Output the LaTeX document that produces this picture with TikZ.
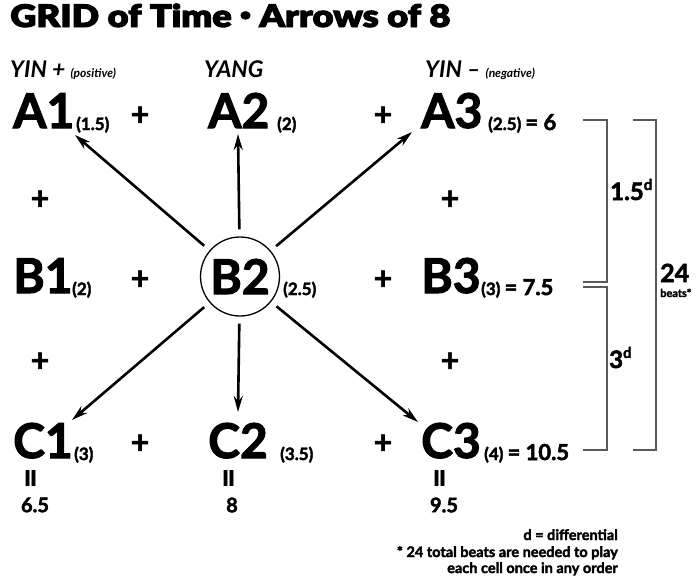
\documentclass[tikz,border=0pt]{standalone}
\usepackage{fontspec}
\setmainfont{Lato}[BoldFeatures={FakeBold=2.2}]
\newfontfamily\titlefont{Lato}[UprightFont=* Black, UprightFeatures={FakeBold=3}]
\usetikzlibrary{arrows.meta}
\begin{document}
\begin{tikzpicture}[x=1pt,y=-1pt,
  big/.style={font=\fontsize{48}{48}\selectfont\bfseries, inner sep=0pt, anchor=base west},
  sub/.style={font=\fontsize{17}{17}\selectfont\bfseries, inner sep=0pt, anchor=base west},
  plus/.style={font=\fontsize{32}{32}\selectfont\bfseries, inner sep=0pt},
  head/.style={font=\fontsize{23}{23}\selectfont\itshape, inner sep=0pt, anchor=base west},
  eqv/.style={font=\fontsize{34}{34}\selectfont\bfseries, inner sep=0pt, rotate=90},
  tot/.style={font=\fontsize{20}{20}\selectfont\bfseries, inner sep=0pt},
  note/.style={font=\fontsize{14.5}{14.5}\selectfont\bfseries, inner sep=0pt, anchor=base east},
  arr/.style={line width=2.6pt, -{Stealth[length=16pt,width=9pt]}, shorten <=7pt},
  brk/.style={draw=black!65, line width=1.6pt},
  blab/.style={font=\fontsize{24}{24}\selectfont\bfseries, inner sep=0pt, anchor=base west}
]
\useasboundingbox (0,0) rectangle (700,579);
% title
\node[anchor=base west, inner sep=0pt, font=\titlefont\fontsize{31}{31}\selectfont, xscale=1.17, transform shape] (title) at (10,27) {GRID of Time \raisebox{0.22em}{\fontsize{16}{16}\selectfont•} Arrows of 8};
% headings
\node[head] (h1) at (10,77) {\bfseries YIN + {\fontsize{12}{12}\selectfont (positive)}};
\node[head] (h2) at (204,77) {\bfseries YANG};
\node[head] (h3) at (425,77) {\bfseries YIN – {\fontsize{12}{12}\selectfont (negative)}};
% row A
\node[big] (A1) at (13,128) {A1};
\node[sub] (sA1) at (76,130) {(1.5)};
\node[big] (A2) at (208,128) {A2};
\node[sub] (sA2) at (277,130) {(2)};
\node[big] (A3) at (421,128) {A3};
\node[sub] (sA3) at (488,130) {(2.5) {\fontsize{22}{22}\selectfont = 6}};
% row B
\node[big] (B1) at (13,293) {B1};
\node[sub] (sB1) at (72,295) {(2)};
\node[circle, draw, line width=1.3pt, minimum size=79pt, inner sep=0pt, font=\fontsize{48}{48}\selectfont\bfseries] (B2) at (240,276.5) {B2};
\node[sub] (sB2) at (283,295) {(2.5)};
\node[big] (B3) at (421,293) {B3};
\node[sub] (sB3) at (481,295) {(3) {\fontsize{22}{22}\selectfont = 7.5}};
% row C
\node[big] (C1) at (13,458) {C1};
\node[sub] (sC1) at (74,460) {(3)};
\node[big] (C2) at (208,458) {C2};
\node[sub] (sC2) at (280,460) {(3.5)};
\node[big] (C3) at (421,458) {C3};
\node[sub] (sC3) at (484,460) {(4) {\fontsize{22}{22}\selectfont = 10.5}};
% plus signs
\node[plus] (p1) at (140,116) {+};
\node[plus] (p2) at (383,116) {+};
\node[plus] (p3) at (40,200) {+};
\node[plus] (p4) at (450,200) {+};
\node[plus] (p5) at (140,280) {+};
\node[plus] (p6) at (383,280) {+};
\node[plus] (p7) at (40,362) {+};
\node[plus] (p8) at (450,362) {+};
\node[plus] (p9) at (140,444) {+};
\node[plus] (p10) at (383,444) {+};
% equals under C and totals
\node[eqv] (e1) at (34,478) {=};
\node[tot] (t1) at (35,505) {6.5};
\node[eqv] (e2) at (232,478) {=};
\node[tot] (t2) at (232,505) {8};
\node[eqv] (e3) at (443,478) {=};
\node[tot] (t3) at (444,505) {9.5};
% arrows
\coordinate (tA1) at (75,135);
\coordinate (tA2) at (238,134);
\coordinate (tA3) at (412,132);
\coordinate (tC1) at (72,420);
\coordinate (tC2) at (238,412);
\coordinate (tC3) at (418,422);
\draw[arr] (B2) -- (tA1);
\draw[arr] (B2) -- (tA2);
\draw[arr] (B2) -- (tA3);
\draw[arr] (B2) -- (tC1);
\draw[arr] (B2) -- (tC2);
\draw[arr] (B2) -- (tC3);
% brackets
\draw[brk] (583,120) -- (607,120) -- (607,282) -- (583,282);
\draw[brk] (583,287) -- (607,287) -- (607,450) -- (583,450);
\draw[brk] (633,120) -- (656,120) -- (656,450) -- (633,450);
\node[blab] (d1) at (610,200) {1.5\raisebox{0.42em}{\fontsize{15}{15}\selectfont d}};
\node[blab] (d2) at (609,368) {3\raisebox{0.42em}{\fontsize{15}{15}\selectfont d}};
\node[anchor=base west, inner sep=0pt, font=\fontsize{25}{25}\selectfont\bfseries] (b24) at (660,282) {24};
\node[anchor=base west, inner sep=0pt, font=\fontsize{11}{11}\selectfont\bfseries] (beats) at (660,297) {beats*};
% notes
\node[note] (n1) at (618,540) {d = differential};
\node[note] (n2) at (618,557) {* 24 total beats are needed to play};
\node[note] (n3) at (618,573) {each cell once in any order};
\end{tikzpicture}
\end{document}
